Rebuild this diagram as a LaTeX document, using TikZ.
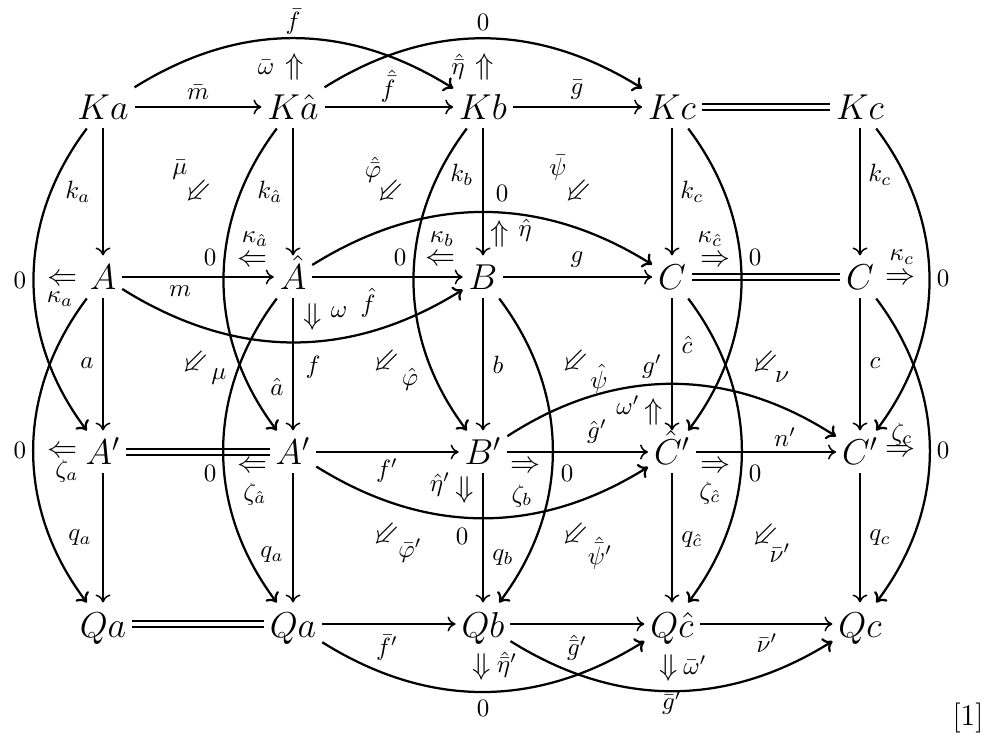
\documentclass[tikz,border=0pt]{standalone}
\usepackage{amsmath,amssymb}
\usetikzlibrary{arrows.meta}
\begin{document}
\begin{tikzpicture}[x=0.4pt,y=0.4pt,
  obj/.style={font=\Large, inner sep=2.2pt, text height=11.4pt, text depth=1pt},
  lab/.style={font=\normalsize, inner sep=0pt},
  cell/.style={font=\large, inner sep=0pt},
  ar/.style={line width=0.6pt, -{Computer Modern Rightarrow[length=3.2pt,width=6pt]}},
  crv/.style={line width=0.9pt, -{Computer Modern Rightarrow[length=3.5pt,width=6.5pt]}},
  eq/.style={double, double distance=1.8pt, line width=0.6pt}]
\useasboundingbox (0,0) rectangle (985,-737);
% objects
\node[obj] (Ka)  at (103,-107) {$Ka$};
\node[obj] (Kh)  at (293,-107) {$K\hat a$};
\node[obj] (Kb)  at (483,-107) {$Kb$};
\node[obj] (Kc)  at (672,-107) {$Kc$};
\node[obj] (Kc2) at (860,-107) {$Kc$};
\node[obj] (A)   at (103,-277) {$A$};
\node[obj] (Ah)  at (293,-277) {$\hat A$};
\node[obj] (B)   at (483,-277) {$B$};
\node[obj] (C)   at (672,-277) {$C$};
\node[obj] (C2)  at (860,-277) {$C$};
\node[obj] (Ap)  at (103,-452) {$A'$};
\node[obj] (Ap2) at (293,-452) {$A'$};
\node[obj] (Bp)  at (483,-452) {$B'$};
\node[obj] (Chp) at (672,-452) {$\hat C'$};
\node[obj] (Cp)  at (860,-452) {$C'$};
\node[obj] (Qa)  at (103,-624) {$Qa$};
\node[obj] (Qa2) at (293,-624) {$Qa$};
\node[obj] (Qb)  at (483,-624) {$Qb$};
\node[obj] (Qc)  at (672,-624) {$Q\hat c$};
\node[obj] (Qc2) at (860,-624) {$Qc$};
% horizontal arrows
\draw[ar] (Ka) -- (Kh);
\draw[ar] (Kh) -- (Kb);
\draw[ar] (Kb) -- (Kc);
\draw[eq] (Kc) -- (Kc2);
\draw[ar] (A) -- (Ah);
\draw[ar] (Ah) -- (B);
\draw[ar] (B) -- (C);
\draw[eq] (C) -- (C2);
\draw[eq] (Ap) -- (Ap2);
\draw[ar] (Ap2) -- (Bp);
\draw[ar] (Bp) -- (Chp);
\draw[ar] (Chp) -- (Cp);
\draw[eq] (Qa) -- (Qa2);
\draw[ar] (Qa2) -- (Qb);
\draw[ar] (Qb) -- (Qc);
\draw[ar] (Qc) -- (Qc2);
% vertical arrows
\draw[ar] (Ka) -- (A);
\draw[ar] (Kh) -- (Ah);
\draw[ar] (Kb) -- (B);
\draw[ar] (Kc) -- (C);
\draw[ar] (Kc2) -- (C2);
\draw[ar] (A) -- (Ap);
\draw[ar] (Ah) -- (Ap2);
\draw[ar] (B) -- (Bp);
\draw[ar] (C) -- (Chp);
\draw[ar] (C2) -- (Cp);
\draw[ar] (Ap) -- (Qa);
\draw[ar] (Ap2) -- (Qa2);
\draw[ar] (Bp) -- (Qb);
\draw[ar] (Chp) -- (Qc);
\draw[ar] (Cp) -- (Qc2);
% curved arrows
\draw[crv] (Ka) to[out=32,in=148] (Kb);
\draw[crv] (Kh) to[out=32,in=148] (Kc);
\draw[crv] (Ah) to[out=32,in=148] (C);
\draw[crv] (A) to[out=-32,in=-148] (B);
\draw[crv] (Ap2) to[out=-32,in=-148] (Chp);
\draw[crv] (Bp) to[out=33,in=147] (Cp);
\draw[crv] (Qa2) to[out=-32,in=-148] (Qc);
\draw[crv] (Qb) to[out=-32,in=-148] (Qc2);
\draw[crv] (Ka) to[out=233,in=127] (Ap);
\draw[crv] (A) to[out=233,in=127] (Qa);
\draw[crv] (Kh) to[out=233,in=127] (Ap2);
\draw[crv] (Ah) to[out=233,in=127] (Qa2);
\draw[crv] (Kb) to[out=233,in=127] (Bp);
\draw[crv] (B) to[out=-53,in=53] (Qb);
\draw[crv] (Kc) to[out=-53,in=53] (Chp);
\draw[crv] (C) to[out=-53,in=53] (Qc);
\draw[crv] (Kc2) to[out=-53,in=53] (Cp);
\draw[crv] (C2) to[out=-53,in=53] (Qc2);
% labels: top row
\node[lab] (l1) at (198,-92) {$\bar m$};
\node[lab] (l2) at (388,-86) {$\hat{\bar f}$};
\node[lab] (l3) at (577,-90) {$\bar g$};
\node[lab] (l4) at (293,-22) {$\bar f$};
\node[lab] (l5) at (483,-22) {$0$};
\node[lab] (l6) at (266,-67) {$\bar\omega$};
\node[cell] (c6) at (295,-67) {$\Uparrow$};
\node[lab] (l7) at (458,-67) {$\hat{\bar\eta}$};
\node[cell] (c7) at (485,-67) {$\Uparrow$};
\node[lab] (l8) at (78,-192) {$k_a$};
\node[lab] (l9) at (270,-192) {$k_{\hat a}$};
\node[lab] (l10) at (462,-175) {$k_b$};
\node[lab] (l11) at (692,-192) {$k_c$};
\node[lab] (l12) at (880,-175) {$k_c$};
\node[lab] (l13) at (180,-170) {$\bar\mu$};
\node[cell,rotate=45] (c13) at (199,-193) {$\Leftarrow$};
\node[lab] (l14) at (373,-170) {$\hat{\bar\varphi}$};
\node[cell,rotate=45] (c14) at (391,-193) {$\Leftarrow$};
\node[lab] (l15) at (558,-168) {$\bar\psi$};
\node[cell,rotate=45] (c15) at (579,-193) {$\Leftarrow$};
\node[lab] (l16) at (502,-193) {$0$};
\node[cell] (c17) at (500,-234) {$\Uparrow$};
\node[lab] (l17) at (525,-230) {$\hat\eta$};
% row A labels
\node[lab] (l18) at (255,-239) {$\kappa_{\hat a}$};
\node[cell] (c18) at (252,-261) {$\Leftarrow$};
\node[lab] (z18) at (210,-257) {$0$};
\node[lab] (l19) at (442,-239) {$\kappa_b$};
\node[cell] (c19) at (440,-260) {$\Leftarrow$};
\node[lab] (z19) at (400,-257) {$0$};
\node[lab] (l20) at (710,-239) {$\kappa_{\hat c}$};
\node[cell] (c20) at (715,-261) {$\Rightarrow$};
\node[lab] (z20) at (755,-257) {$0$};
\node[lab] (l21) at (902,-257) {$\kappa_c$};
\node[cell] (c21) at (900,-279) {$\Rightarrow$};
\node[lab] (z21) at (943,-278) {$0$};
\node[lab] (z22) at (20,-280) {$0$};
\node[cell] (c22) at (62,-280) {$\Leftarrow$};
\node[lab] (l22) at (60,-299) {$\kappa_a$};
\node[lab] (l23) at (577,-260) {$g$};
\node[lab] (l24) at (180,-291) {$m$};
\node[lab] (l25) at (368,-303) {$\hat f$};
\node[cell] (c26) at (313,-317) {$\Downarrow$};
\node[lab] (l26) at (339,-312) {$\omega$};
\node[lab] (l27) at (313,-367) {$f$};
% between rows A and A'
\node[cell,rotate=45] (c28) at (196,-364) {$\Leftarrow$};
\node[lab] (l28) at (219,-377) {$\mu$};
\node[lab] (l29) at (87,-363) {$a$};
\node[lab] (l30) at (277,-387) {$\hat a$};
\node[cell,rotate=45] (c31) at (387,-363) {$\Leftarrow$};
\node[lab] (l31) at (410,-379) {$\hat\varphi$};
\node[lab] (l32) at (498,-365) {$b$};
\node[cell,rotate=45] (c33) at (576,-363) {$\Leftarrow$};
\node[lab] (l33) at (599,-379) {$\hat\psi$};
\node[lab] (l34) at (687,-345) {$\hat c$};
\node[cell,rotate=45] (c35) at (766,-364) {$\Leftarrow$};
\node[lab] (l35) at (782,-377) {$\nu$};
\node[lab] (l36) at (875,-363) {$c$};
\node[lab] (l37) at (652,-367) {$g'$};
\node[lab] (l38) at (628,-405) {$\omega'$};
\node[cell] (c38) at (654,-412) {$\Uparrow$};
% row A' labels
\node[lab] (l39) at (597,-432) {$\hat g'$};
\node[lab] (l40) at (785,-437) {$n'$};
\node[lab] (l41) at (902,-434) {$\zeta_c$};
\node[cell] (c41) at (900,-451) {$\Rightarrow$};
\node[lab] (z41) at (943,-450) {$0$};
\node[lab] (z42) at (20,-450) {$0$};
\node[cell] (c42) at (62,-452) {$\Leftarrow$};
\node[lab] (l42) at (67,-471) {$\zeta_a$};
\node[lab] (z43) at (210,-473) {$0$};
\node[cell] (c43) at (252,-467) {$\Leftarrow$};
\node[lab] (l43) at (255,-494) {$\zeta_{\hat a}$};
\node[lab] (l44) at (387,-471) {$f'$};
\node[lab] (l45) at (440,-485) {$\hat\eta'$};
\node[cell] (c45) at (465,-490) {$\Downarrow$};
\node[cell] (c46) at (525,-467) {$\Rightarrow$};
\node[lab] (z46) at (567,-473) {$0$};
\node[lab] (l46) at (522,-496) {$\zeta_b$};
\node[cell] (c47) at (715,-467) {$\Rightarrow$};
\node[lab] (z47) at (755,-473) {$0$};
\node[lab] (l47) at (710,-493) {$\zeta_{\hat c}$};
\node[lab] (z48) at (462,-536) {$0$};
% between rows A' and Q
\node[cell,rotate=45] (c49) at (387,-536) {$\Leftarrow$};
\node[lab] (l49) at (410,-551) {$\bar\varphi'$};
\node[lab] (l50) at (503,-558) {$q_b$};
\node[cell,rotate=45] (c51) at (576,-536) {$\Leftarrow$};
\node[lab] (l51) at (600,-553) {$\hat{\bar\psi}'$};
\node[lab] (l52) at (692,-540) {$q_{\hat c}$};
\node[cell,rotate=45] (c53) at (766,-537) {$\Leftarrow$};
\node[lab] (l53) at (780,-553) {$\bar\nu'$};
\node[lab] (l54) at (880,-538) {$q_c$};
\node[lab] (l55) at (80,-538) {$q_a$};
\node[lab] (l56) at (272,-555) {$q_a$};
% bottom row labels
\node[lab] (l57) at (387,-648) {$\bar f'$};
\node[lab] (l58) at (577,-648) {$\hat{\bar g}'$};
\node[lab] (l59) at (767,-643) {$\bar\nu'$};
\node[cell] (c60) at (482,-667) {$\Downarrow$};
\node[lab] (l60) at (507,-665) {$\hat{\bar\eta}'$};
\node[cell] (c61) at (669,-668) {$\Downarrow$};
\node[lab] (l61) at (695,-665) {$\bar\omega'$};
\node[lab] (z62) at (483,-708) {$0$};
\node[lab] (l63) at (672,-703) {$\bar g'$};
\node[font=\large, inner sep=0pt] (ref) at (968,-718) {[1]};
\end{tikzpicture}
\end{document}
